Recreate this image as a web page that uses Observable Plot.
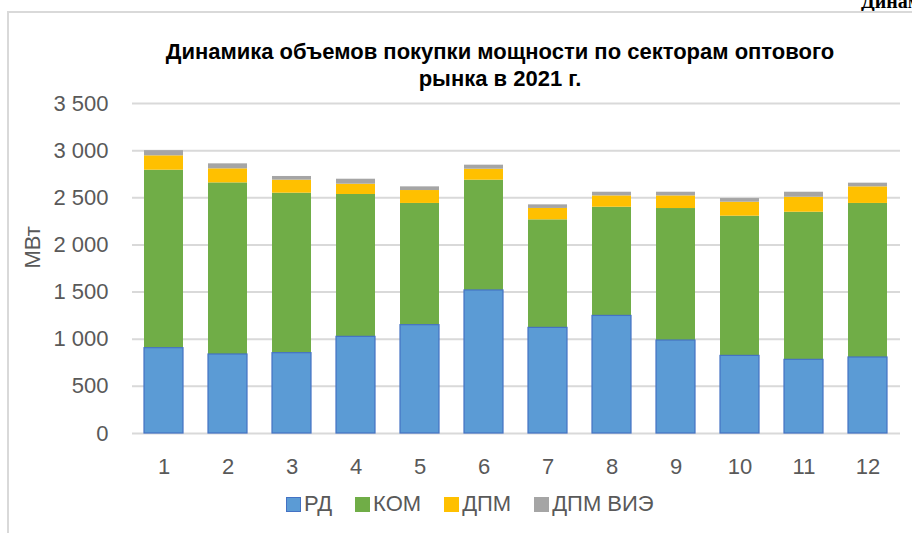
<!DOCTYPE html>
<html>
<head>
<meta charset="utf-8">
<script src="https://cdn.jsdelivr.net/npm/d3@7"></script>
<script src="https://cdn.jsdelivr.net/npm/@observablehq/plot@0.6"></script>
<style>
  html, body { margin: 0; padding: 0; background: #fff; }
  #wrap { position: relative; width: 912px; height: 533px; overflow: hidden; background: #fff;
    font-family: "Liberation Sans", Arial, sans-serif; }
  #frame { position: absolute; left: 7px; top: 11px; width: 1000px; height: 1000px; pointer-events: none;
    border-left: 2px solid #d9d9d9; border-top: 2px solid #d9d9d9; box-sizing: border-box; }
  #corner { position: absolute; left: 861px; top: -11px; white-space: nowrap;
    font-family: "Liberation Serif", "Times New Roman", serif; font-weight: bold; font-size: 20px; line-height: 24px; color: #000; }
  #title { position: absolute; left: 0; top: 38px; width: 1000px; text-align: center;
    font-weight: bold; font-size: 22px; line-height: 27px; color: #000; }
  #chart { position: absolute; left: 0; top: 90px; }
  #legend { position: absolute; left: 286px; top: 491px; display: flex; align-items: center;
    font-size: 22px; line-height: 26px; color: #595959; white-space: nowrap; }
  #legend .item { display: flex; align-items: center; margin-right: 23px; }
  #legend .sw { width: 15px; height: 15px; margin-right: 3px; box-sizing: border-box; }
</style>
</head>
<body>
<div id="wrap">
  <div id="corner">Динамика объемов</div>
  <div id="title">Динамика объемов покупки мощности по секторам оптового<br>рынка в 2021 г.</div>
  <div id="chart"></div>
  <div id="legend"></div>
  <div id="frame"></div>
</div>
<script>
const months = ["1","2","3","4","5","6","7","8","9","10","11","12"];
const seriesNames = ["РД","КОМ","ДПМ","ДПМ ВИЭ"];
const rd  = [905, 838, 852, 1025, 1149, 1517, 1120, 1247, 986, 823, 781, 806];
const kom = [1888, 1820, 1697, 1510, 1291, 1170, 1146, 1153, 1400, 1482, 1566, 1634];
const dpm = [152, 149, 138, 109, 137, 116, 121, 120, 134, 148, 159, 176];
const vie = [55, 53, 39, 53, 39, 43, 38, 39, 39, 39, 53, 39];
const seriesColors = ["#5b9bd5", "#70ad47", "#ffc000", "#a5a5a5"];
const yTicks = [0, 500, 1000, 1500, 2000, 2500, 3000, 3500];
const yLabel = "МВт";

const seriesValues = [rd, kom, dpm, vie];
const data = [];
months.forEach((m, i) => {
  seriesNames.forEach((s, j) => data.push({month: m, series: s, value: seriesValues[j][i]}));
});
const rdData = data.filter(d => d.series === "РД");
const fmt = d => d3.format(",")(d).replace(/,/g, " ");

const chart = Plot.plot({
  width: 912,
  height: 400,
  marginLeft: 132,
  marginRight: 12,
  marginTop: 13,
  marginBottom: 57,
  style: { fontFamily: '"Liberation Sans", Arial, sans-serif', fontSize: "22px", color: "#595959", background: "transparent" },
  x: { domain: months, paddingInner: 0.383, paddingOuter: 0.19, label: null },
  y: { domain: [0, 3500], ticks: yTicks, label: null },
  color: { domain: seriesNames, range: seriesColors },
  marks: [
    Plot.gridY(yTicks, { stroke: "#d9d9d9", strokeOpacity: 1, strokeWidth: 2 }),
    Plot.barY(data, { x: "month", y: "value", fill: "series" }),
    Plot.barY(rdData, { x: "month", y: "value", fill: "none", stroke: "#4472c4", strokeWidth: 1.2 }),
    Plot.axisX({ tickSize: 0, tickPadding: 25, fill: "#595959", label: null }),
    Plot.axisY(yTicks, { tickSize: 0, tickPadding: 24, tickFormat: fmt, fill: "#595959", label: null }),
    Plot.text([yLabel], { text: d => d, frameAnchor: "left", dx: -100, rotate: -90, fill: "#595959", fontSize: 22 })
  ]
});
document.getElementById("chart").appendChild(chart);

const legend = document.getElementById("legend");
seriesNames.forEach((s, i) => {
  const item = document.createElement("div");
  item.className = "item";
  const sw = document.createElement("div");
  sw.className = "sw";
  sw.style.background = seriesColors[i];
  if (i === 0) sw.style.border = "1.5px solid #4472c4";
  const lab = document.createElement("span");
  lab.textContent = s;
  item.appendChild(sw);
  item.appendChild(lab);
  legend.appendChild(item);
});
</script>
</body>
</html>
